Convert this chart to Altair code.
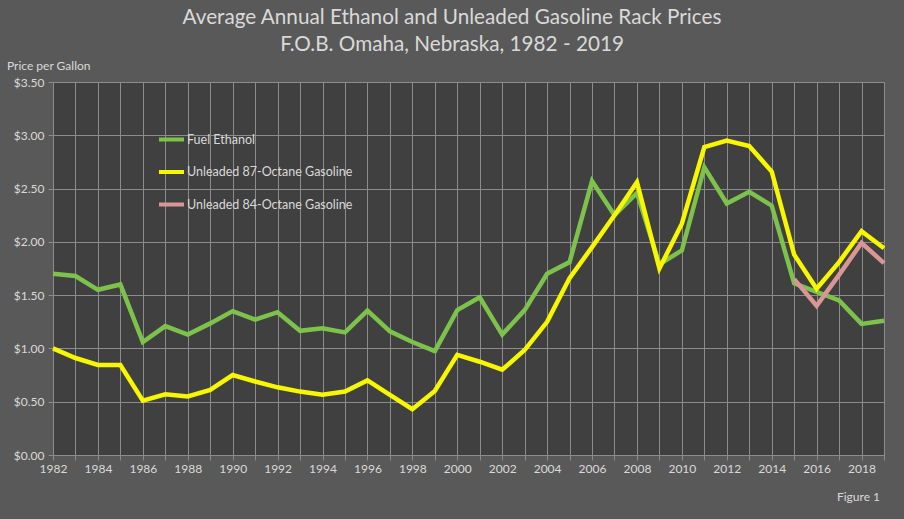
import altair as alt
import pandas as pd

years = list(range(1982, 2020))
ethanol = [1.70, 1.68, 1.55, 1.60, 1.06, 1.21, 1.13, 1.235, 1.35, 1.27, 1.34, 1.165, 1.19, 1.15, 1.355,
           1.16, 1.06, 0.975, 1.36, 1.48, 1.13, 1.36, 1.70, 1.81, 2.57, 2.25, 2.46, 1.79, 1.92, 2.70,
           2.36, 2.47, 2.34, 1.61, 1.53, 1.45, 1.23, 1.26]
gas87 = [1.00, 0.91, 0.845, 0.845, 0.51, 0.57, 0.55, 0.61, 0.75, 0.69, 0.635, 0.595, 0.565, 0.595, 0.70,
         0.565, 0.43, 0.60, 0.94, 0.875, 0.80, 0.985, 1.25, 1.66, 1.95, 2.25, 2.56, 1.75, 2.17, 2.89,
         2.95, 2.90, 2.66, 1.88, 1.56, 1.81, 2.10, 1.94]
gas84_years = [2015, 2016, 2017, 2018, 2019]
gas84 = [1.65, 1.40, 1.69, 1.99, 1.80]

names = ["Fuel Ethanol", "Unleaded 87-Octane Gasoline", "Unleaded 84-Octane Gasoline"]
colors = ["#7dc24b", "#f7f700", "#d99694"]

df_e = pd.DataFrame({"year": years, "price": ethanol, "series": names[0]})
df_g = pd.DataFrame({"year": years, "price": gas87, "series": names[1]})
df_p = pd.DataFrame({"year": gas84_years, "price": gas84, "series": names[2]})

FONT = "Lato"
TXT = "#d9d9d9"
GRID = "#8c8c8c"

xenc = alt.X("year:Q", scale=alt.Scale(domain=[1982, 2019], nice=False, zero=False),
             axis=alt.Axis(values=years, labelExpr="datum.value % 2 == 0 ? datum.value : ''",
                           title=None, grid=True, gridColor=GRID, gridWidth=1,
                           tickColor=GRID, tickSize=5, domainColor=GRID,
                           labelColor=TXT, labelFont=FONT, labelFontSize=12,
                           labelPadding=3, labelFlush=False))
yenc = alt.Y("price:Q", scale=alt.Scale(domain=[0, 3.5], nice=False),
             axis=alt.Axis(values=[0, 0.5, 1, 1.5, 2, 2.5, 3, 3.5], format="$.2f", title=None,
                           grid=True, gridColor=GRID, gridWidth=1, tickColor=GRID, tickSize=5,
                           domainColor=GRID, labelColor=TXT, labelFont=FONT, labelFontSize=12,
                           labelPadding=4))
color = alt.Color("series:N", scale=alt.Scale(domain=names, range=colors),
                  legend=alt.Legend(title=None, orient="none", legendX=104, legendY=43,
                                    symbolType="stroke", symbolStrokeWidth=4, symbolSize=625,
                                    labelColor=TXT, labelFont=FONT, labelFontSize=12.5,
                                    labelLimit=400, rowPadding=9.5, labelOffset=1,
                                    symbolOpacity=1))

def line(df):
    return alt.Chart(df).mark_line(strokeWidth=4.5, strokeJoin="miter").encode(x=xenc, y=yenc, color=color)

title_lines = ["Average Annual Ethanol and Unleaded Gasoline Rack Prices",
               "F.O.B. Omaha, Nebraska, 1982 - 2019"]

title1 = alt.Chart(pd.DataFrame({"t": [title_lines[0]]})).mark_text(
    font=FONT, fontSize=20.7, color=TXT, align="center", baseline="middle").encode(
    text="t:N", x=alt.value(399), y=alt.value(-64))
title2 = alt.Chart(pd.DataFrame({"t": [title_lines[1]]})).mark_text(
    font=FONT, fontSize=20.7, color=TXT, align="center", baseline="middle").encode(
    text="t:N", x=alt.value(399), y=alt.value(-37))
ylab = alt.Chart(pd.DataFrame({"t": ["Price per Gallon"]})).mark_text(
    font=FONT, fontSize=12, color=TXT, align="left", baseline="middle").encode(
    text="t:N", x=alt.value(-46), y=alt.value(-16))
fig = alt.Chart(pd.DataFrame({"t": ["Figure 1"]})).mark_text(
    font=FONT, fontSize=12, color=TXT, align="right", baseline="middle").encode(
    text="t:N", x=alt.value(827), y=alt.value(415))

chart = alt.layer(line(df_e), line(df_p), line(df_g), title1, title2, ylab, fig).properties(
    width=831, height=373, background="#595959",
    padding={"left": 53, "top": 82, "right": 20, "bottom": 64},
    autosize=alt.AutoSizeParams(type="none"),
).configure_view(fill="#404040", stroke=GRID, strokeWidth=1)

chart.save("out.html", embed_options={"renderer": "svg", "actions": False})
